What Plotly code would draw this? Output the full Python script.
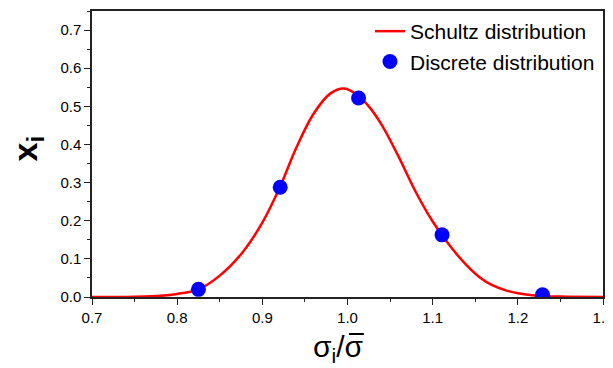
import plotly.graph_objects as go

# Schultz distribution curve
curve_x = [0.70, 0.74, 0.76, 0.78, 0.80, 0.825, 0.85, 0.875, 0.90, 0.92, 0.94, 0.96,
           0.98, 0.995, 1.01, 1.025, 1.04, 1.06, 1.08, 1.10, 1.12, 1.14, 1.155, 1.17, 1.185,
           1.20, 1.22, 1.25, 1.30]
curve_y = [0.0, 0.0, 0.001, 0.003, 0.008, 0.020, 0.056, 0.112, 0.195, 0.285, 0.392, 0.480,
           0.534, 0.547, 0.533, 0.500, 0.452, 0.368, 0.276, 0.198, 0.135, 0.083, 0.052, 0.031, 0.018,
           0.010, 0.004, 0.001, 0.0]

# Discrete distribution points
disc_x = [0.825, 0.921, 1.013, 1.111, 1.229]
disc_y = [0.020, 0.288, 0.522, 0.163, 0.006]

x_ticks = [0.7, 0.8, 0.9, 1.0, 1.1, 1.2, 1.3]
y_ticks = [0.0, 0.1, 0.2, 0.3, 0.4, 0.5, 0.6, 0.7]

FONT = "Liberation Sans, Arial, sans-serif"

fig = go.Figure()
fig.add_trace(go.Scatter(
    x=curve_x, y=curve_y, mode="lines", name="Schultz distribution",
    line=dict(color="#ff0000", width=2.5, shape="spline", smoothing=1.0),
    legendgroup="a"))
fig.add_trace(go.Scatter(
    x=disc_x, y=disc_y, mode="markers", name="Discrete distribution",
    marker=dict(color="#0000ff", size=15, line=dict(width=0)),
    legendgroup="b"))

axis_common = dict(
    showgrid=False, zeroline=False, showline=True, mirror=True,
    linecolor="#222222", linewidth=1.5, automargin=False,
    ticks="outside", ticklen=6, tickwidth=1.2, tickcolor="#222222",
    tickfont=dict(family=FONT, size=15, color="#000000"),
    minor=dict(ticks="outside", ticklen=3.5, tickwidth=1.2, tickcolor="#222222", dtick=0.05),
)

fig.update_layout(
    width=611, height=360,
    margin=dict(l=84, r=16, t=3, b=71, autoexpand=False),
    paper_bgcolor="white", plot_bgcolor="white",
    xaxis=dict(range=[0.7, 1.3], tickvals=x_ticks,
               ticktext=[f"{v:.1f}" for v in x_ticks],
               **axis_common),
    yaxis=dict(range=[0, 0.75], tickvals=y_ticks,
               ticktext=[f"{v:.1f}" for v in y_ticks],
               **axis_common),
    legend=dict(x=0.544, y=1.0, xanchor="left", yanchor="top",
                bgcolor="rgba(0,0,0,0)", borderwidth=0,
                font=dict(family=FONT, size=21, color="#000"),
                traceorder="grouped", tracegroupgap=0),
    showlegend=True,
)

# y-axis title: x_i (rotated)
fig.add_annotation(text="<b>x<sub>i</sub></b>", xref="paper", yref="paper", x=-0.127, y=0.52,
                   xanchor="center", yanchor="middle", textangle=-90, showarrow=False,
                   font=dict(family=FONT, size=34, color="#000"))

# x-axis title: sigma_i / sigma-bar (bar drawn as a short line over the second sigma)
fig.add_annotation(text="σ<sub>i</sub>/σ", xref="paper", yref="paper", x=0.4286, y=-0.108,
                   xanchor="left", yanchor="top", showarrow=False,
                   font=dict(family=FONT, size=30, color="#000"))
fig.add_shape(type="line", xref="paper", yref="paper", x0=0.503, x1=0.532,
              y0=-0.1294, y1=-0.1294, line=dict(color="#000", width=2))

fig.write_html("out.html")
